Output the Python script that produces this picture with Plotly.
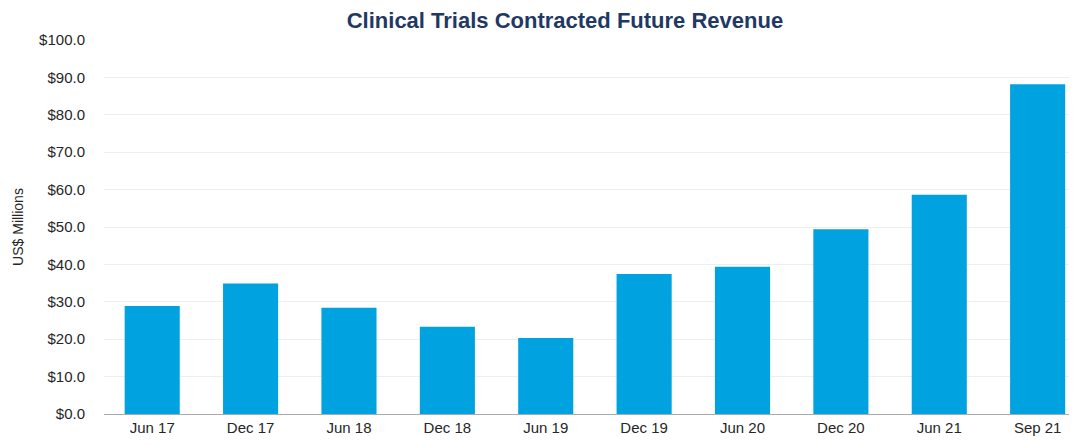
import plotly.graph_objects as go

categories = ["Jun 17", "Dec 17", "Jun 18", "Dec 18", "Jun 19",
              "Dec 19", "Jun 20", "Dec 20", "Jun 21", "Sep 21"]
revenue = [28.9, 34.9, 28.4, 23.3, 20.3, 37.4, 39.4, 49.4, 58.6, 88.2]
tick_vals = [0, 10, 20, 30, 40, 50, 60, 70, 80, 90, 100]
tick_text = ["$%.1f" % v for v in tick_vals]

FONT = "Liberation Sans, Arial, Helvetica, sans-serif"

fig = go.Figure(go.Bar(
    x=categories, y=revenue,
    marker=dict(color="#00A2DF", line=dict(width=0)),
    width=0.56,
))

# the page body has an 8px margin, so the figure is sized to fit the window
fig.update_layout(
    width=1069, height=437,
    margin=dict(l=96, r=0, t=32, b=31, autoexpand=False),
    paper_bgcolor="white", plot_bgcolor="white",
    font=dict(family=FONT, color="#333333", size=15),
    title=dict(text="<b>Clinical Trials Contracted Future Revenue</b>",
               x=0.521, xanchor="center", y=0.971, yanchor="middle",
               font=dict(size=22, color="#1F3864", family=FONT)),
    showlegend=False,
    bargap=0.44,
)
fig.update_xaxes(
    range=[-0.49, 9.40],
    showline=True, linecolor="#AAAAAA", linewidth=1,
    showgrid=False, ticks="", tickfont=dict(size=15, color="#262626"),
)
fig.update_yaxes(
    range=[0, 100], tickvals=tick_vals, ticktext=tick_text,
    showgrid=True, gridcolor="#EEEEEE", gridwidth=1,
    zeroline=False, showline=False,
    ticks="outside", ticklen=15, tickcolor="rgba(0,0,0,0)",
    tickfont=dict(size=15, color="#262626"),
    title=dict(text="US$ Millions", font=dict(size=14, color="#262626"), standoff=12),
)

fig.write_html("out.html")
